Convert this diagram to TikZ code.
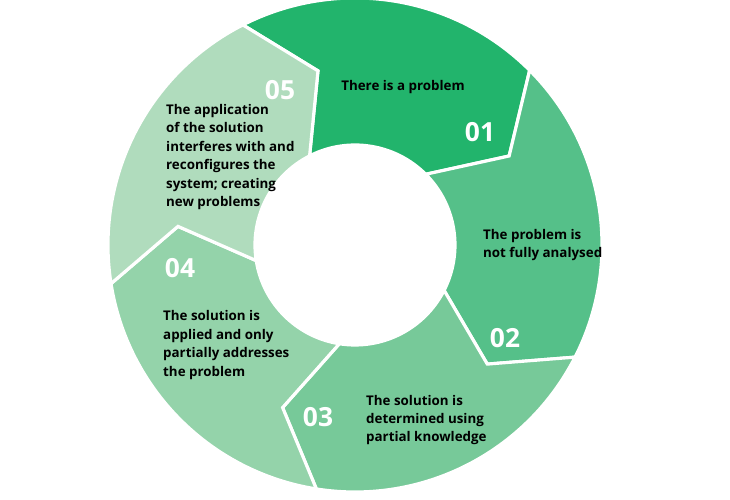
\documentclass[tikz,border=0pt]{standalone}
\usepackage{fontspec}
\setmainfont{Open Sans}
\usepackage{xcolor}
\definecolor{segA}{HTML}{22B46C}
\definecolor{segB}{HTML}{55C089}
\definecolor{segC}{HTML}{77C999}
\definecolor{segD}{HTML}{94D3AA}
\definecolor{segE}{HTML}{B0DCBD}
\begin{document}
\begin{tikzpicture}[scale=0.02,
segment/.style={draw=white,line width=1.8pt,line join=miter},
num/.style={text=white,font=\bfseries\fontsize{15}{15}\selectfont},
lbl/.style={align=left,anchor=west,font=\bfseries\fontsize{7.6}{10.5}\selectfont}]
\useasboundingbox (-355,-255) rectangle (375,245);
\foreach \a/\c in {117/segA,45/segB,-27/segC,-99/segD,-171/segE}{
    \filldraw[segment,fill=\c] (\a:247) -- (\a-15:178) -- (\a:100)
        arc[start angle=\a,end angle=\a-72,radius=100]
        -- (\a-87:178) -- (\a-72:247)
        arc[start angle=\a-72,end angle=\a,radius=247] -- cycle;
}
\node[num] (n1) at (125,113) {01};
\node[num] (n2) at (150,-93) {02};
\node[num] (n3) at (-37,-172) {03};
\node[num] (n4) at (-175,-23) {04};
\node[num] (n5) at (-75,155) {05};
\node[lbl,anchor=center] (t1) at (48,158) {There is a problem};
\node[lbl] (t2) at (122,0) {The problem is\\not fully analysed};
\node[lbl] (t3) at (5,-175) {The solution is\\determined using\\partial knowledge};
\node[lbl] (t4) at (-198,-100) {The solution is\\applied and only\\partially addresses\\the problem};
\node[lbl] (t5) at (-195,88) {The application\\of the solution\\interferes with and\\reconfigures the\\system; creating\\new problems};
\end{tikzpicture}
\end{document}
